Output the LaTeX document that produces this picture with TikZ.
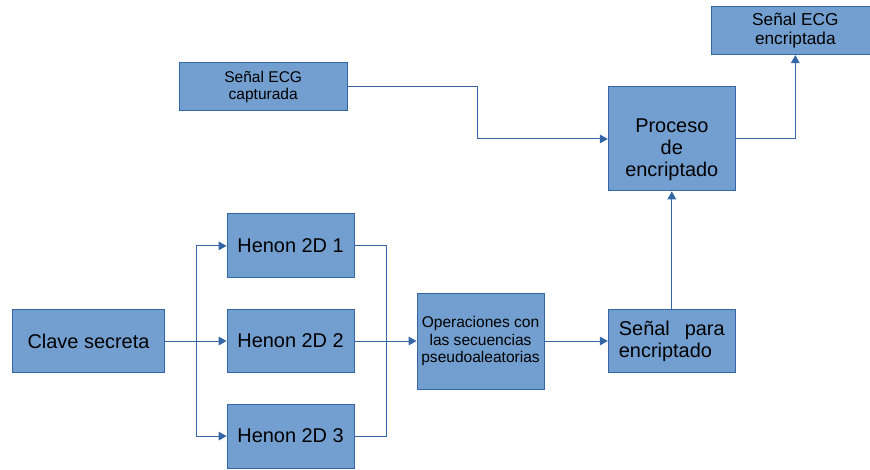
\documentclass[tikz,border=0pt]{standalone}
\usepackage{fontspec}
\setmainfont{Liberation Sans}
\usepackage{tikz}
\usetikzlibrary{positioning, arrows.meta}
\definecolor{boxfill}{HTML}{729FCF}
\definecolor{boxline}{HTML}{3465A4}

\begin{document}
\begin{tikzpicture}[
        block/.style = {draw=boxline, fill=boxfill, line width=0.75pt, inner sep=2pt, align=center,
            font=\fontsize{15}{16.5}\selectfont, minimum width=3.36cm, minimum height=1.69cm},
        smallblock/.style = {block, font=\fontsize{11.7}{13.2}\selectfont},
        link/.style = {draw=boxline, line width=0.75pt},
        arr/.style = {link, -{Triangle[length=6pt, width=6.5pt]}}
    ]
        \useasboundingbox (0,0) rectangle (23.02,-12.41);
        \node[block, minimum width=4cm] (clave) at (2.342,-9.023) {Clave secreta};
        \node[block, right=1.64cm of clave] (henon2) {Henon 2D 2};
        \node[block, above=0.8cm of henon2] (henon1) {Henon 2D 1};
        \node[block, below=0.8cm of henon2] (henon3) {Henon 2D 3};
        \node[smallblock, minimum height=2.54cm, right=1.64cm of henon2] (ops) {Operaciones con\\las secuencias\\pseudoaleatorias};
        \node[block, right=1.675cm of ops, text width=2.8cm, align=left] (para) {Señal\hfill para\\encriptado};
        \node[block, minimum height=2.75cm, above=3.1cm of para] (proceso) {\rule{0pt}{27pt}Proceso\\de\\encriptado};
        \node[smallblock, minimum width=4.45cm, minimum height=1.27cm, left=6.88cm of proceso, yshift=1.376cm] (capt) {Señal ECG\\capturada};
        \node[smallblock, font=\fontsize{13}{14.6}\selectfont, minimum width=4.45cm, minimum height=1.27cm, above=0.83cm of proceso, xshift=3.268cm] (encr) {Señal ECG\\encriptada};
        \coordinate[right=0.85cm of clave.east] (split);
        \coordinate[right=0.85cm of henon2.east] (merge);
        \coordinate[left=3.44cm of proceso.west] (bend);
        \draw[arr] (clave) -- (henon2);
        \draw[arr] (split) |- (henon1);
        \draw[arr] (split) |- (henon3);
        \draw[link] (henon1) -| (merge) |- (henon3);
        \draw[arr] (henon2) -- (ops);
        \draw[arr] (ops) -- (para);
        \draw[arr] (para) -- (proceso);
        \draw[arr] (capt) -| (bend) -- (proceso);
        \draw[arr] (proceso) -| (encr);
\end{tikzpicture}
\end{document}
